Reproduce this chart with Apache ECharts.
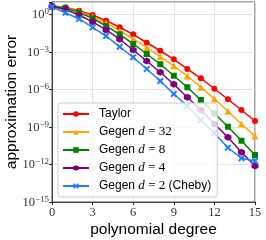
<!DOCTYPE html>
<html><head><meta charset="utf-8">
<script src="https://cdn.jsdelivr.net/npm/echarts@6/dist/echarts.min.js"></script>
<style>html,body{margin:0;padding:0;background:#fff}#c{width:266px;height:240px}</style>
</head><body><div id="c"></div>
<script>
const degrees = [0,1,2,3,4,5,6,7,8,9,10,11,12,13,14,15];
const taylor = [4.8,3.8,2.0,0.91,0.32,9.5e-2,2.6e-2,5.5e-3,1.26e-3,2.6e-4,4.4e-5,7.9e-6,1.15e-6,1.66e-7,2.3e-8,3.0e-9];
const gegen32 = [4.8,3.6,1.74,0.69,0.21,5.0e-2,1.1e-2,2.2e-3,4.2e-4,7.9e-5,1.2e-5,1.5e-6,1.8e-7,1.8e-8,1.74e-9,1.9e-10];
const gegen8 = [4.5,3.3,1.45,0.50,0.12,2.6e-2,4.4e-3,6.9e-4,1.05e-4,1.26e-5,1.5e-6,1.45e-7,1.2e-8,1.05e-9,7.9e-11,5.8e-12];
const gegen4 = [4.4,2.5,0.91,0.26,5.8e-2,1.05e-2,1.45e-3,1.9e-4,2.4e-5,2.6e-6,2.4e-7,2.3e-8,1.74e-9,1.5e-10,9.5e-12,7.6e-13];
const gegen2 = [4.0,1.38,0.44,9.5e-2,1.9e-2,2.6e-3,3.8e-4,4.4e-5,4.8e-6,4.4e-7,4.8e-8,3.6e-9,3.2e-10,2.2e-11,3.2e-12,1.9e-12];
const xTicks = [0,3,6,9,12,15];
const yTickExps = [0,-3,-6,-9,-12,-15];

const hexPath = 'path://M0,-1L0.866,-0.5L0.866,0.5L0,1L-0.866,0.5L-0.866,-0.5Z';
const xPath = 'path://M-1,-0.6L-0.6,-1L0,-0.4L0.6,-1L1,-0.6L0.4,0L1,0.6L0.6,1L0,0.4L-0.6,1L-1,0.6L-0.4,0Z';

function mk(name, data, color, symbol, size) {
  return {
    name: name, type: 'line', data: degrees.map((d,i)=>[d, data[i]]),
    symbol: symbol, symbolSize: size, showSymbol: true,
    lineStyle: {color: color, width: 1.5},
    itemStyle: {color: color},
    emphasis: {disabled: true}, animation: false
  };
}
const series = [
  mk('Taylor', taylor, '#ff0000', 'circle', 6),
  mk('Gegen32', gegen32, '#ffa500', 'triangle', 7),
  mk('Gegen8', gegen8, '#008000', 'rect', 6),
  mk('Gegen4', gegen4, '#800080', hexPath, 7),
  mk('Gegen2', gegen2, '#1a7fff', xPath, 7)
];
const legendNames = {
  'Taylor': 'Taylor',
  'Gegen32': 'Gegen {m|d} {r|= 32}',
  'Gegen8': 'Gegen {m|d} {r|= 8}',
  'Gegen4': 'Gegen {m|d} {r|= 4}',
  'Gegen2': 'Gegen {m|d} {r|= 2} (Cheby)'
};

const chart = echarts.init(document.getElementById('c'), null, {renderer: 'canvas'});
chart.setOption({
  animation: false,
  grid: {left: 52, right: 11, top: 2, bottom: 38, show: true, borderColor: '#222', borderWidth: 0.8,
    backgroundColor: 'transparent', containLabel: false, outerBoundsMode: 'none'},
  xAxis: {
    type: 'value', min: 0, max: 15, interval: 3,
    name: 'polynomial degree', nameLocation: 'middle', nameGap: 20, nameMoveOverlap: false,
    nameTextStyle: {fontFamily: 'Liberation Sans', fontSize: 15.5, color: '#000'},
    axisLine: {show: true, lineStyle: {color: '#222', width: 0.8}},
    axisTick: {show: true, length: 3, lineStyle: {color: '#222'}},
    axisLabel: {margin: 4, fontFamily: 'Liberation Serif', fontSize: 12.5, color: '#333',
      formatter: v => xTicks.indexOf(v) >= 0 ? String(v) : ''},
    splitLine: {show: true, lineStyle: {color: '#dddddd', width: 0.8}}
  },
  yAxis: {
    type: 'log', logBase: 10, min: 1e-15, max: 10, interval: 3,
    name: 'approximation error', nameLocation: 'middle', nameGap: 32, nameRotate: 90, nameMoveOverlap: false,
    nameTextStyle: {fontFamily: 'Liberation Sans', fontSize: 15.5, color: '#000'},
    axisLine: {show: true, lineStyle: {color: '#222', width: 0.8}},
    axisTick: {show: true, length: 3, lineStyle: {color: '#222'}},
    axisLabel: {margin: 3, color: '#333',
      formatter: v => {
        const e = Math.round(Math.log10(v));
        if (yTickExps.indexOf(e) < 0) return '';
        return '{b|10}{s|' + (e < 0 ? '\u2212' + (-e) : e) + '}';
      },
      rich: {
        b: {fontFamily: 'Liberation Serif', fontSize: 12.5, color: '#333', verticalAlign: 'bottom', lineHeight: 14},
        s: {fontFamily: 'Liberation Serif', fontSize: 9, color: '#333', verticalAlign: 'top', lineHeight: 14, padding: [0,0,7,0]}
      }
    },
    splitLine: {show: true, lineStyle: {color: '#dddddd', width: 0.8}}
  },
  legend: {
    orient: 'vertical', left: 58, top: 103,
    padding: [4, 6, 4, 4], itemGap: 4, itemWidth: 26, itemHeight: 7,
    backgroundColor: 'rgba(255,255,255,0.8)', borderColor: '#cccccc', borderWidth: 1, borderRadius: 3,
    data: series.map(s => s.name),
    formatter: n => legendNames[n],
    textStyle: {fontFamily: 'Liberation Sans', fontSize: 12, color: '#000', lineHeight: 14, padding: [0,0,0,5],
      rich: {
        m: {fontFamily: 'Liberation Serif', fontStyle: 'italic', fontSize: 13, color: '#000', lineHeight: 14},
        r: {fontFamily: 'Liberation Serif', fontSize: 13, color: '#000', lineHeight: 14}
      }
    }
  },
  series: series
});
</script></body></html>
